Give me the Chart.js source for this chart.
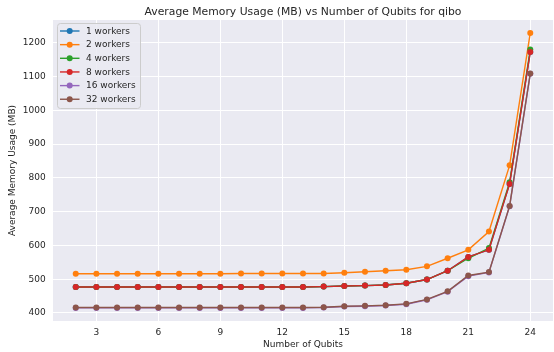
<!DOCTYPE html>
<html>
<head>
<meta charset="utf-8">
<script src="https://cdn.jsdelivr.net/npm/chart.js@4/dist/chart.umd.min.js"></script>
<style>
  html, body { margin: 0; padding: 0; background: #ffffff; overflow: hidden; }
  #wrap { width: 554px; height: 352px; overflow: hidden; position: relative; }
  canvas { display: block; }
</style>
</head>
<body>
<div id="wrap"><canvas id="c" width="556" height="352"></canvas></div>
<script>
// Benchmark: average memory usage of qibo simulations by qubit count
const qubits = [2, 3, 4, 5, 6, 7, 8, 9, 10, 11, 12, 13, 14, 15, 16, 17, 18, 19, 20, 21, 22, 23, 24];

const workers1  = [477, 477, 477, 477, 477, 477, 477, 477, 477, 477, 477, 477, 478, 480, 481, 483, 488, 499, 525, 566, 587, 782, 1173];
const workers2  = [516, 516, 516, 516, 516, 516, 516, 516, 517, 517, 517, 517, 517, 519, 522, 525, 528, 538, 562, 587, 641, 837, 1229];
const workers4  = [477, 477, 477, 477, 477, 477, 477, 477, 477, 477, 477, 477, 478, 480, 481, 483, 488, 499, 525, 562, 592, 787, 1180];
const workers8  = [477, 477, 477, 477, 477, 477, 477, 477, 477, 477, 477, 477, 478, 480, 481, 483, 488, 499, 525, 566, 587, 782, 1173];
const workers16 = [415, 415, 415, 415, 415, 415, 415, 415, 415, 415, 415, 415, 416, 419, 420, 422, 426, 439, 463, 509, 520, 716, 1108];
const workers32 = [416, 416, 416, 416, 416, 416, 416, 416, 416, 416, 416, 416, 417, 420, 421, 423, 427, 440, 464, 511, 521, 717, 1109];

const seriesLabels = ['1 workers', '2 workers', '4 workers', '8 workers', '16 workers', '32 workers'];
const seriesValues = [workers1, workers2, workers4, workers8, workers16, workers32];
const seriesColors = ['#1f77b4', '#ff7f0e', '#2ca02c', '#d62728', '#9467bd', '#8c564b'];

const xTickValues = [3, 6, 9, 12, 15, 18, 21, 24];
const yTickValues = [400, 500, 600, 700, 800, 900, 1000, 1100, 1200];

const titleText = 'Average Memory Usage (MB) vs Number of Qubits for qibo';
const xTitle = 'Number of Qubits';
const yTitle = 'Average Memory Usage (MB)';

const FONT = "'DejaVu Sans', sans-serif";
const TEXT = '#262626';
const SMALL = 9;

const datasets = seriesLabels.map((label, i) => ({
  label,
  data: qubits.map((q, j) => ({ x: q, y: seriesValues[i][j] })),
  borderColor: seriesColors[i],
  backgroundColor: seriesColors[i],
  borderWidth: 1.4,
  pointRadius: 3,
  pointHoverRadius: 3,
  pointBorderWidth: 0,
  pointBackgroundColor: seriesColors[i],
  tension: 0,
  fill: false,
  // later series are painted on top
  order: seriesLabels.length - i
}));

// Plot background, title and legend
const decor = {
  id: 'decor',
  beforeDraw(chart) {
    const { ctx, chartArea: a } = chart;
    ctx.save();
    ctx.fillStyle = '#eaeaf2';
    ctx.fillRect(a.left, a.top, a.right - a.left, a.bottom - a.top);
    ctx.restore();
  },
  afterDraw(chart) {
    const { ctx, chartArea: a } = chart;
    ctx.save();
    ctx.fillStyle = TEXT;
    ctx.font = `10.8px ${FONT}`;
    ctx.textAlign = 'center';
    ctx.textBaseline = 'alphabetic';
    ctx.fillText(titleText, (a.left + a.right) / 2, 14.7);

    // legend box
    const bx = 57.5, by = 23.5, bw = 83, bh = 85, r = 3;
    ctx.beginPath();
    ctx.moveTo(bx + r, by);
    ctx.lineTo(bx + bw - r, by);
    ctx.arcTo(bx + bw, by, bx + bw, by + r, r);
    ctx.lineTo(bx + bw, by + bh - r);
    ctx.arcTo(bx + bw, by + bh, bx + bw - r, by + bh, r);
    ctx.lineTo(bx + r, by + bh);
    ctx.arcTo(bx, by + bh, bx, by + bh - r, r);
    ctx.lineTo(bx, by + r);
    ctx.arcTo(bx, by, bx + r, by, r);
    ctx.closePath();
    ctx.fillStyle = 'rgba(234,234,242,0.85)';
    ctx.fill();
    ctx.strokeStyle = '#cccccc';
    ctx.lineWidth = 1;
    ctx.stroke();

    ctx.font = `${SMALL}px ${FONT}`;
    ctx.textAlign = 'left';
    ctx.textBaseline = 'middle';
    chart.data.datasets.forEach((ds, i) => {
      const y = 31 + i * 13.65;
      ctx.strokeStyle = ds.borderColor;
      ctx.lineWidth = 1.4;
      ctx.beginPath();
      ctx.moveTo(60, y);
      ctx.lineTo(79.5, y);
      ctx.stroke();
      ctx.fillStyle = ds.borderColor;
      ctx.beginPath();
      ctx.arc(69.7, y, 3, 0, Math.PI * 2);
      ctx.fill();
      ctx.fillStyle = TEXT;
      ctx.fillText(ds.label, 86, y + 0.5);
    });
    ctx.restore();
  }
};

new Chart(document.getElementById('c'), {
  type: 'line',
  data: { datasets },
  options: {
    responsive: false,
    animation: false,
    events: [],
    layout: { padding: { top: 20, left: 0, right: 0, bottom: 0 } },
    plugins: {
      legend: { display: false },
      title: { display: false },
      tooltip: { enabled: false }
    },
    scales: {
      x: {
        type: 'linear',
        min: 0.9,
        max: 25.1,
        afterBuildTicks(scale) { scale.ticks = xTickValues.map(v => ({ value: v })); },
        afterFit(scale) { scale.height = 31; },
        grid: { color: '#ffffff', lineWidth: 1, drawTicks: false },
        border: { display: false },
        ticks: { padding: 6, color: TEXT, font: { family: FONT, size: SMALL }, maxRotation: 0, autoSkip: false, callback: v => String(v) },
        title: { display: true, text: xTitle, color: TEXT, font: { family: FONT, size: SMALL, lineHeight: 1.2 }, padding: { top: 0, bottom: 2.4 } }
      },
      y: {
        type: 'linear',
        min: 376.2,
        max: 1267.4,
        afterBuildTicks(scale) { scale.ticks = yTickValues.map(v => ({ value: v })); },
        afterFit(scale) { scale.width = 53; },
        grid: { color: '#ffffff', lineWidth: 1, drawTicks: false },
        border: { display: false },
        ticks: { padding: 7.3, color: TEXT, font: { family: FONT, size: SMALL }, autoSkip: false, callback: v => String(v) },
        title: { display: true, text: yTitle, color: TEXT, font: { family: FONT, size: SMALL, lineHeight: 1.2 }, padding: { top: 7.6, bottom: 0 } }
      }
    }
  },
  plugins: [decor]
});
</script>
</body>
</html>
